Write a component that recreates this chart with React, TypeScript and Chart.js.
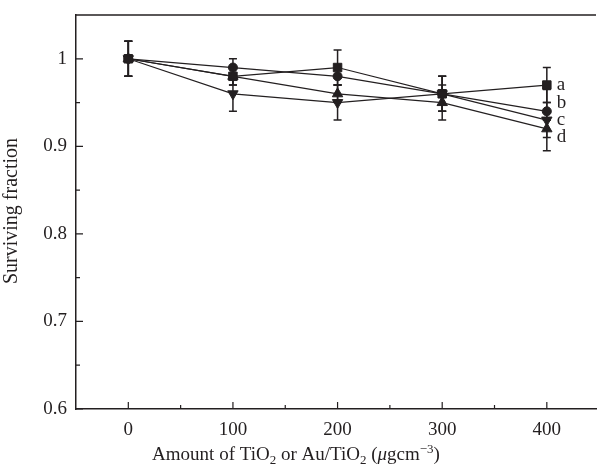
import React, { useEffect, useRef } from "react";
import { Chart, registerables } from "chart.js";

Chart.register(...registerables);

const doses = [0, 100, 200, 300, 400];
const seriesA = [1.0, 0.98, 0.99, 0.96, 0.97];
const seriesB = [1.0, 0.99, 0.98, 0.96, 0.94];
const seriesC = [1.0, 0.96, 0.95, 0.96, 0.93];
const seriesD = [1.0, 0.98, 0.96, 0.95, 0.92];
const errA = [0.02, 0.01, 0.02, 0.02, 0.02];
const errB = [0.02, 0.01, 0.01, 0.02, 0.01];
const errC = [0.02, 0.02, 0.02, 0.02, 0.035];
const errD = [0.02, 0.01, 0.01, 0.02, 0.01];
const seriesNames = ["a", "b", "c", "d"];
const nameLevels = [0.97, 0.949, 0.93, 0.911];
const xTicks = [0, 100, 200, 300, 400];
const xMinor = [50, 150, 250, 350];
const yTicks = [0.6, 0.7, 0.8, 0.9, 1.0];
const yMinor = [0.65, 0.75, 0.85, 0.95];

const FONT = "'Liberation Serif', 'Times New Roman', serif";
const INK = "#231f20";

const overlay = {
  id: "overlay",
  beforeDatasetsDraw(chart: any) {
    const ctx = chart.ctx;
    const xs = chart.scales.x;
    const ys = chart.scales.y;
    const sets = [
      [seriesA, errA],
      [seriesB, errB],
      [seriesC, errC],
      [seriesD, errD],
    ];
    ctx.save();
    ctx.strokeStyle = INK;
    ctx.lineWidth = 1.5;
    sets.forEach(([vals, errs]) => {
      vals.forEach((v: number, i: number) => {
        const px = xs.getPixelForValue(doses[i]);
        const top = ys.getPixelForValue(v + errs[i]);
        const bot = ys.getPixelForValue(v - errs[i]);
        ctx.beginPath();
        ctx.moveTo(px, top);
        ctx.lineTo(px, bot);
        ctx.moveTo(px - 4, top);
        ctx.lineTo(px + 4, top);
        ctx.moveTo(px - 4, bot);
        ctx.lineTo(px + 4, bot);
        ctx.stroke();
      });
    });
    ctx.restore();
  },
  afterDraw(chart: any) {
    const ctx = chart.ctx;
    const xs = chart.scales.x;
    const ys = chart.scales.y;
    const area = chart.chartArea;
    ctx.save();
    ctx.strokeStyle = INK;
    ctx.lineWidth = 1.5;
    ctx.beginPath();
    ctx.moveTo(area.left, area.top);
    ctx.lineTo(area.right, area.top);
    ctx.stroke();
    ctx.lineWidth = 1.2;
    ctx.beginPath();
    xTicks.forEach((v) => {
      const p = xs.getPixelForValue(v);
      ctx.moveTo(p, area.bottom);
      ctx.lineTo(p, area.bottom - 7);
    });
    xMinor.forEach((v) => {
      const p = xs.getPixelForValue(v);
      ctx.moveTo(p, area.bottom);
      ctx.lineTo(p, area.bottom - 4);
    });
    yTicks.forEach((v) => {
      const p = ys.getPixelForValue(v);
      ctx.moveTo(area.left, p);
      ctx.lineTo(area.left + 7, p);
    });
    yMinor.forEach((v) => {
      const p = ys.getPixelForValue(v);
      ctx.moveTo(area.left, p);
      ctx.lineTo(area.left + 4, p);
    });
    ctx.stroke();

    ctx.fillStyle = INK;
    ctx.font = `19px ${FONT}`;
    ctx.textBaseline = "middle";
    ctx.textAlign = "left";
    seriesNames.forEach((n, i) => {
      ctx.fillText(n, xs.getPixelForValue(400) + 10, ys.getPixelForValue(nameLevels[i]));
    });

    ctx.save();
    ctx.translate(17, 211);
    ctx.rotate(-Math.PI / 2);
    ctx.textAlign = "center";
    ctx.textBaseline = "alphabetic";
    ctx.font = `20px ${FONT}`;
    ctx.fillText("Surviving fraction", 0, 0);
    ctx.restore();

    const size = 19;
    const small = 13;
    const segs: [string, string, number][] = [
      ["Amount of TiO", "n", 0],
      ["2", "s", 4],
      [" or Au/TiO", "n", 0],
      ["2", "s", 4],
      [" (", "n", 0],
      ["\u03bc", "i", 0],
      ["gcm", "n", 0],
      ["\u22123", "s", -7],
      [")", "n", 0],
    ];
    const fontOf = (k: string) =>
      k === "n" ? `${size}px ${FONT}` : k === "i" ? `italic ${size}px ${FONT}` : `${small}px ${FONT}`;
    let total = 0;
    segs.forEach(([t, k]) => {
      ctx.font = fontOf(k);
      total += ctx.measureText(t).width;
    });
    let x = 296 - total / 2;
    const base = 460;
    ctx.textAlign = "left";
    ctx.textBaseline = "alphabetic";
    segs.forEach(([t, k, dy]) => {
      ctx.font = fontOf(k);
      ctx.fillText(t, x, base + dy);
      x += ctx.measureText(t).width;
    });
    ctx.restore();
  },
};

export default function App() {
  const ref = useRef<HTMLCanvasElement>(null);
  useEffect(() => {
    if (!ref.current) return;
    const mk = (label: string, data: number[], style: string, radius: number, rotation = 0) => ({
      label,
      data: data.map((v, i) => ({ x: doses[i], y: v })),
      borderColor: INK,
      backgroundColor: INK,
      borderWidth: 1.2,
      pointStyle: style,
      pointRadius: radius,
      pointRotation: rotation,
      pointBorderWidth: 1,
      pointBorderColor: INK,
      pointBackgroundColor: INK,
      showLine: true,
      fill: false,
      tension: 0,
    });
    const chart = new Chart(ref.current, {
      type: "scatter",
      data: {
        datasets: [
          mk("c", seriesC, "triangle", 6, 180),
          mk("d", seriesD, "triangle", 6, 0),
          mk("b", seriesB, "circle", 4.5),
          mk("a", seriesA, "rect", 6),
        ] as any,
      },
      options: {
        animation: false,
        responsive: false,
        devicePixelRatio: 1,
        layout: { padding: { top: 15, right: 0, left: 0, bottom: 0 } },
        plugins: { legend: { display: false }, tooltip: { enabled: false } },
        scales: {
          x: {
            type: "linear",
            min: -50,
            max: 447,
            afterFit: (s: any) => {
              s.height = 61;
              s.paddingLeft = 0;
              s.paddingRight = 0;
            },
            afterBuildTicks: (s: any) => {
              s.ticks = xTicks.map((v) => ({ value: v }));
            },
            grid: { display: false, drawTicks: false },
            border: { display: true, color: INK, width: 1.5 },
            ticks: {
              padding: 10,
              color: INK,
              font: { family: FONT, size: 19 },
              maxRotation: 0,
              autoSkip: false,
            },
          },
          y: {
            type: "linear",
            min: 0.6,
            max: 1.05,
            afterFit: (s: any) => {
              s.width = 76;
              s.paddingTop = 0;
              s.paddingBottom = 0;
            },
            afterBuildTicks: (s: any) => {
              s.ticks = yTicks.map((v) => ({ value: v }));
            },
            grid: { display: false, drawTicks: false },
            border: { display: true, color: INK, width: 1.5 },
            ticks: {
              padding: 9,
              color: INK,
              font: { family: FONT, size: 19 },
              callback: (v: any) => (Math.abs(v - 1) < 1e-9 ? "1" : Number(v).toFixed(1)),
            },
          },
        },
      },
      plugins: [overlay],
    });
    return () => chart.destroy();
  }, []);
  return (
    <canvas
      ref={ref}
      width={603}
      height={470}
      style={{ display: "block", position: "absolute", left: 0, top: 0 }}
    />
  );
}
